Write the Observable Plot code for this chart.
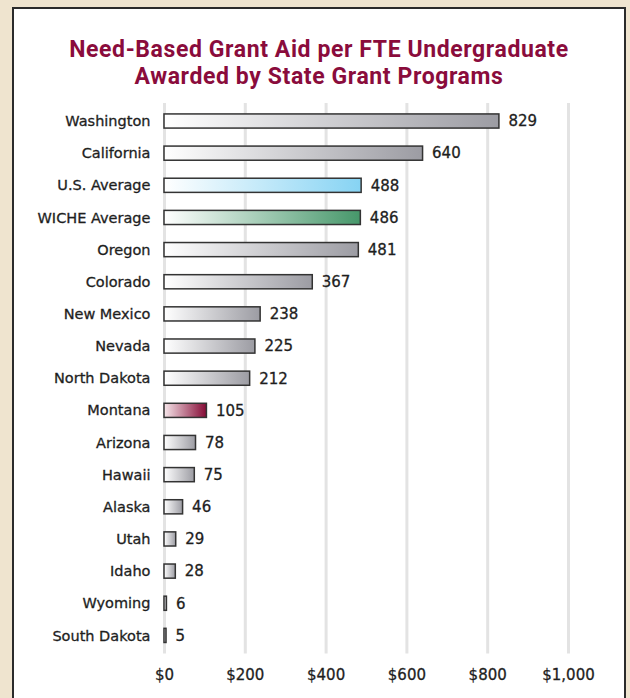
<!DOCTYPE html>
<html>
<head>
<meta charset="utf-8">
<script src="https://cdn.jsdelivr.net/npm/d3@7"></script>
<script src="https://cdn.jsdelivr.net/npm/@observablehq/plot@0.6"></script>
<style>
  html, body { margin: 0; padding: 0; }
  body { width: 630px; height: 698px; overflow: hidden; position: relative;
         background: #efe4cf; font-family: "DejaVu Sans", sans-serif; }
  .panel { position: absolute; left: 12px; top: 7px; width: 610px; height: 700px;
           background: #fff; border: 2px solid #2b2b2b; }
  .title { position: absolute; left: 0; width: 638px; text-align: center;
           font-family: Roboto, sans-serif; font-weight: 700; font-size: 23px;
           line-height: 27px; color: #8a0c3c; letter-spacing: 0.6px; }
  #chart { position: absolute; left: 0; top: 0; }
  #chart svg text { stroke: #1e1e1e; stroke-width: 0.3px; }
</style>
</head>
<body>
<div class="panel"></div>
<div class="title" style="top:36px">Need-Based Grant Aid per FTE Undergraduate</div>
<div class="title" style="top:63px">Awarded by State Grant Programs</div>
<div id="chart"></div>
<script>
const states = ["Washington", "California", "U.S. Average", "WICHE Average", "Oregon", "Colorado",
  "New Mexico", "Nevada", "North Dakota", "Montana", "Arizona", "Hawaii", "Alaska", "Utah",
  "Idaho", "Wyoming", "South Dakota"];
const values = [829, 640, 488, 486, 481, 367, 238, 225, 212, 105, 78, 75, 46, 29, 28, 6, 5];
const xTicks = [0, 200, 400, 600, 800, 1000];
const xTickLabels = ["$0", "$200", "$400", "$600", "$800", "$1,000"];

const data = states.map((s, i) => ({state: s, value: values[i]}));

const special = {"U.S. Average": "gBlue", "WICHE Average": "gGreen", "Montana": "gRed"};
const gradOf = s => special[s] || "gGray";

function barsFor(id) {
  return Plot.barX(data.filter(d => gradOf(d.state) === id), {
    x: "value", y: "state", fill: `url(#${id})`, stroke: "#333", strokeWidth: 1.5
  });
}

const plot = Plot.plot({
  width: 630,
  height: 698,
  marginTop: 103,
  marginBottom: 44.6,
  marginLeft: 164,
  marginRight: 62,
  style: {background: "transparent", fontFamily: "DejaVu Sans, sans-serif", color: "#1e1e1e"},
  x: {domain: [0, 1000], axis: null, label: null},
  y: {domain: states, paddingInner: 0.56, paddingOuter: 0.34, round: false, axis: null, label: null},
  marks: [
    Plot.ruleX(xTicks, {stroke: "#e3e3e3", strokeWidth: 3}),
    Plot.axisX({ticks: xTicks, tickFormat: d => xTickLabels[xTicks.indexOf(d)], tickSize: 0,
      tickPadding: 15, fontSize: 15, fill: "#1e1e1e", label: null}),
    Plot.axisY({tickSize: 0, tickPadding: 14, fontSize: 14.5, fill: "#1e1e1e", label: null}),
    barsFor("gGray"), barsFor("gBlue"), barsFor("gGreen"), barsFor("gRed"),
    Plot.text(data, {x: "value", y: "state", text: d => String(d.value), dx: 9,
      textAnchor: "start", fontSize: 15, fill: "#1e1e1e"})
  ]
});

const svg = d3.select(plot);
const defs = svg.insert("defs", ":first-child");
const grads = {
  gGray: ["#ffffff", "#9c9ca3"],
  gBlue: ["#ffffff", "#86d3f3"],
  gGreen: ["#ffffff", "#46976a"],
  gRed: ["#f6e6ea", "#850a35"]
};
for (const [id, [a, b]] of Object.entries(grads)) {
  const g = defs.append("linearGradient").attr("id", id).attr("x1", "0").attr("x2", "1").attr("y1", "0").attr("y2", "0");
  g.append("stop").attr("offset", "0").attr("stop-color", a);
  g.append("stop").attr("offset", "1").attr("stop-color", b);
}
document.getElementById("chart").appendChild(plot);
</script>
</body>
</html>
